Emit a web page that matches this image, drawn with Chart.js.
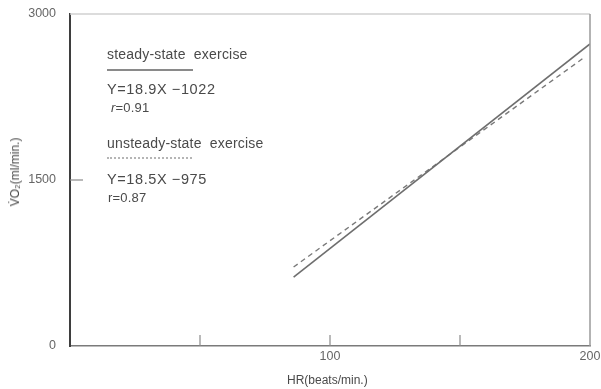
<!DOCTYPE html>
<html>
<head>
<meta charset="utf-8">
<script src="https://cdn.jsdelivr.net/npm/chart.js@4.4.1/dist/chart.umd.min.js"></script>
<style>
  html, body { margin: 0; padding: 0; background: #fff; }
  #wrap { position: relative; width: 601px; height: 389px; }
  canvas { position: absolute; left: 0; top: 0; }
  .t { position: absolute; font-family: "Liberation Sans", Arial, sans-serif; color: #4a4a4a; white-space: pre; line-height: 1; }
  .leg { font-size: 14px; letter-spacing: 0.2px; }
  .eq { font-size: 14.5px; letter-spacing: 0.6px; }
  .sample { position: absolute; height: 0; }
</style>
</head>
<body>
<div id="wrap">
  <canvas id="c" width="601" height="389"></canvas>
  <div class="t leg" style="left:107px; top:47px;">steady-state  exercise</div>
  <div class="sample" style="left:107px; top:69px; width:86px; border-top:2px solid #8a8a8a;"></div>
  <div class="t eq" style="left:107px; top:82px;">Y=18.9X −1022</div>
  <div class="t leg" style="left:111px; top:101px; font-size:13px;"><i>r</i>=0.91</div>
  <div class="t leg" style="left:107px; top:136px;">unsteady-state  exercise</div>
  <div class="sample" style="left:107px; top:157px; width:85px; border-top:2px dotted #b5b5b5;"></div>
  <div class="t eq" style="left:107px; top:172px;">Y=18.5X −975</div>
  <div class="t leg" style="left:108px; top:191px; font-size:13px;">r=0.87</div>
  <div class="t" style="left:287px; top:374px; font-size:12px;">HR(beats/min.)</div>
  <div class="t" style="left:15px; top:172px; font-size:12px; transform: translate(-50%,-50%) rotate(-90deg);">V̇O₂(ml/min.)</div>
</div>
<script>
// Data
const steadyHR = [86, 200];
const steadyVO2 = [623, 2730];
const unsteadyHR = [86, 198];
const unsteadyVO2 = [714, 2611];
const xTickLabels = [100, 200];
const yTickLabels = [0, 1500, 3000];
const xInnerTicks = [50, 100, 150];
const yInnerTicks = [1500];

const toPts = (xs, ys) => xs.map((x, i) => ({x: x, y: ys[i]}));

const frame = {
  id: 'frame',
  afterDatasetsDraw(chart) {
    const {ctx, chartArea: a, scales} = chart;
    ctx.save();
    ctx.strokeStyle = '#d0d0d0';
    ctx.lineWidth = 1.5;
    ctx.beginPath(); ctx.moveTo(a.left, a.top); ctx.lineTo(a.right, a.top); ctx.stroke();
    ctx.strokeStyle = '#9a9a9a';
    ctx.lineWidth = 1.5;
    ctx.beginPath(); ctx.moveTo(a.right, a.top); ctx.lineTo(a.right, a.bottom); ctx.stroke();
    ctx.strokeStyle = '#8a8a8a';
    ctx.lineWidth = 1.2;
    xInnerTicks.forEach(v => {
      const px = scales.x.getPixelForValue(v);
      ctx.beginPath(); ctx.moveTo(px, a.bottom); ctx.lineTo(px, a.bottom - 11); ctx.stroke();
    });
    yInnerTicks.forEach(v => {
      const py = scales.y.getPixelForValue(v);
      ctx.beginPath(); ctx.moveTo(a.left, py); ctx.lineTo(a.left + 13, py); ctx.stroke();
    });
    ctx.restore();
  }
};

const tickFont = { family: 'Liberation Sans, Arial', size: 12.5 };

new Chart(document.getElementById('c'), {
  type: 'scatter',
  data: {
    datasets: [
      {
        label: 'steady-state exercise',
        data: toPts(steadyHR, steadyVO2),
        showLine: true,
        borderColor: '#6e6e6e',
        borderWidth: 1.6,
        pointRadius: 0,
        fill: false
      },
      {
        label: 'unsteady-state exercise',
        data: toPts(unsteadyHR, unsteadyVO2),
        showLine: true,
        borderColor: '#7a7a7a',
        borderWidth: 1.4,
        borderDash: [5, 4],
        pointRadius: 0,
        fill: false
      }
    ]
  },
  options: {
    responsive: false,
    animation: false,
    layout: { padding: { left: 0, right: 11, top: 14, bottom: 0 } },
    plugins: { legend: { display: false }, tooltip: { enabled: false } },
    scales: {
      x: {
        type: 'linear', min: 0, max: 200,
        afterBuildTicks: s => { s.ticks = xTickLabels.map(v => ({value: v})); },
        afterFit: s => { s.height = 43; },
        grid: { display: false },
        border: { display: true, color: '#7a7a7a', width: 1.6 },
        ticks: { color: '#666', font: tickFont, padding: -5, maxRotation: 0, callback: v => String(v) }
      },
      y: {
        type: 'linear', min: 0, max: 3000,
        afterBuildTicks: s => { s.ticks = yTickLabels.map(v => ({value: v})); },
        afterFit: s => { s.width = 70; },
        grid: { display: false },
        border: { display: true, color: '#3e3e3e', width: 2 },
        ticks: { color: '#666', font: tickFont, padding: 6, callback: v => String(v) }
      }
    }
  },
  plugins: [frame]
});
</script>
</body>
</html>
